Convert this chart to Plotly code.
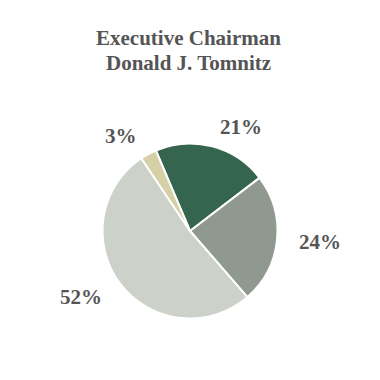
import math
import plotly.graph_objects as go

labels = ["Base Salary", "Bonus", "Equity", "Other"]
values = [21, 24, 52, 3]
colors = ["#35654f", "#8f998f", "#ccd1c9", "#d5d0a6"]
title_lines = ["Executive Chairman", "Donald J. Tomnitz"]

W = H = 380
OFF = 8  # page body margin
cx, cy, r = 190 - OFF, 231 - OFF, 87.5
rotation = -23
label_r = 108

fig = go.Figure(go.Pie(
    labels=labels, values=values, sort=False, direction="clockwise",
    rotation=rotation, textinfo="none", hoverinfo="label+percent",
    marker=dict(colors=colors, line=dict(color="white", width=2)),
    domain=dict(x=[(cx - r) / W, (cx + r) / W], y=[1 - (cy + r) / H, 1 - (cy - r) / H]),
    showlegend=False,
))

total = sum(values)
cum = 0
annotations = []
for v in values:
    mid = rotation + (cum + v / 2) / total * 360
    cum += v
    a = math.radians(mid)
    px = cx + label_r * math.sin(a)
    py = cy - label_r * math.cos(a)
    annotations.append(dict(
        x=px / W, y=1 - py / H, xref="paper", yref="paper",
        text=f"<b>{round(v / total * 100)}%</b>", showarrow=False,
        xanchor="left" if math.sin(a) > 0 else "right", yanchor="middle",
        font=dict(family="Liberation Serif", size=21, color="#555555"),
    ))

for i, t in enumerate(title_lines):
    annotations.append(dict(
        x=(188 - OFF) / W, y=1 - (38 + 25 * i - OFF) / H, xref="paper", yref="paper",
        text=f"<b>{t}</b>", showarrow=False, xanchor="center", yanchor="middle",
        font=dict(family="Liberation Serif", size=21, color="#555555"),
    ))

fig.update_layout(
    width=W, height=H, margin=dict(l=0, r=0, t=0, b=0),
    paper_bgcolor="white", plot_bgcolor="white",
    annotations=annotations,
)
fig.write_html("out.html")
